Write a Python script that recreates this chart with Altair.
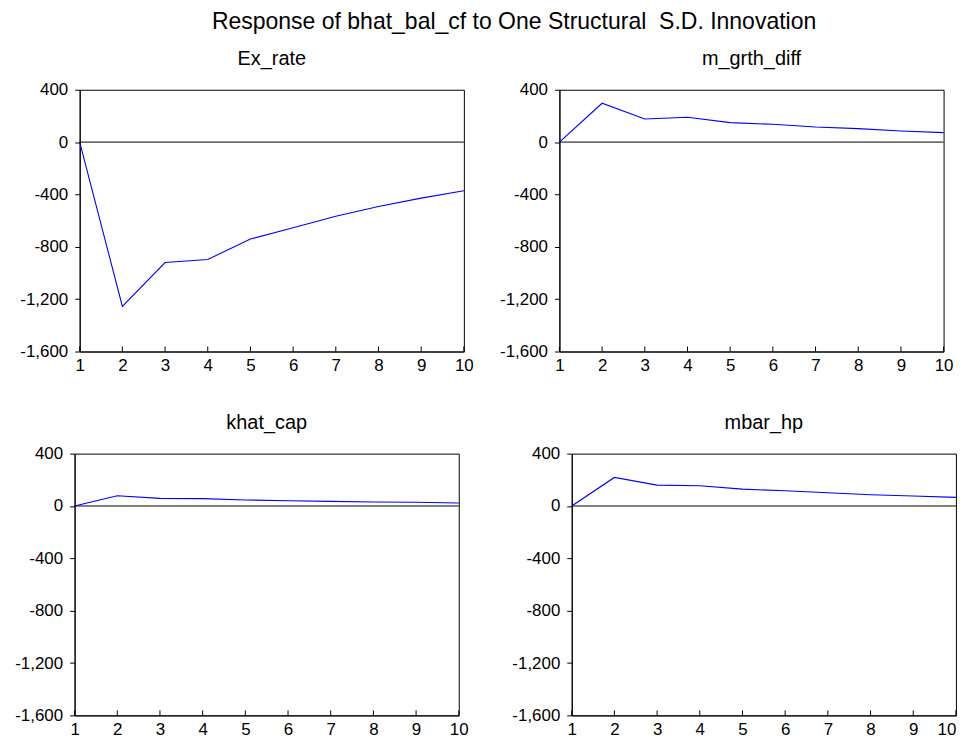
import altair as alt
import pandas as pd

steps = list(range(1, 11))
ex_rate = [0, -1255, -920, -897, -741, -655, -566, -492, -428, -372]
m_grth_diff = [0, 297, 177, 190, 149, 136, 115, 103, 85, 72]
khat_cap = [0, 78, 58, 56, 46, 40, 35, 30, 28, 23]
mbar_hp = [0, 218, 159, 154, 129, 116, 101, 86, 76, 66]
panel_titles = ["Ex_rate", "m_grth_diff", "khat_cap", "mbar_hp"]
y_ticks = [-1600, -1200, -800, -400, 0, 400]
main_title = "Response of bhat_bal_cf to One Structural\u00a0 S.D. Innovation"

FONT = "Liberation Sans"
W, H = 386, 263


def panel(name, values, left_space=0, flush_last=False):
    df = pd.DataFrame({"step": steps, "value": values})
    xkw = dict(values=steps, ticks=False, grid=False, labelPadding=6,
               labelFlush=False, labelOverlap=False, title=None,
               labelFont=FONT, labelFontSize=17, labelColor="black",
               domainColor="black")
    if flush_last:
        xkw["labelAlign"] = {"condition": {"test": "datum.value == 10", "value": "right"},
                             "value": "center"}
    x_enc = alt.X("step:Q", scale=alt.Scale(domain=[1, 10], nice=False, zero=False),
                  axis=alt.Axis(**xkw))
    ykw = dict(
        values=y_ticks, tickSize=5, labelPadding=7, grid=False,
        labelFont=FONT, labelFontSize=17, labelColor="black",
        domainColor="black", tickColor="black",
        labelExpr="replace(format(datum.value, ','), '\u2212', '-')",
    )
    if left_space:
        ykw.update(title="\u00a0", titleFontSize=4, titlePadding=left_space - 4,
                   titleColor="white")
    else:
        ykw.update(title=None)
    y_enc = alt.Y("value:Q", scale=alt.Scale(domain=[-1600, 400], nice=False),
                  axis=alt.Axis(**ykw))
    base = alt.Chart(df)
    line = base.mark_line(color="#0000ff", strokeWidth=1.1).encode(x=x_enc, y=y_enc)
    zero = alt.Chart(pd.DataFrame({"z": [0]})).mark_rule(color="black", strokeWidth=1).encode(y="z:Q")
    ticks = base.mark_rule(color="black", strokeWidth=1).encode(
        x="step:Q", y=alt.value(H), y2=alt.value(H - 5))
    return alt.layer(zero, ticks, line).properties(
        width=W, height=H,
        title=alt.TitleParams(name, fontSize=20, font=FONT, fontWeight="normal",
                              baseline="alphabetic", offset=-4, color="black"),
    )


p1 = panel(panel_titles[0], ex_rate, left_space=15.5)
p2 = panel(panel_titles[1], m_grth_diff)
p3 = panel(panel_titles[2], khat_cap)
p4 = panel(panel_titles[3], mbar_hp, flush_last=True)

row1 = alt.hconcat(p1, p2, spacing=25)
row2 = alt.hconcat(p3, p4, spacing=42.5)

chart = alt.vconcat(row1, row2, spacing=37.6, center=True).properties(
    title=alt.TitleParams(main_title, fontSize=23.1, font=FONT, fontWeight="normal",
                          anchor="middle", dx=33, dy=-9, offset=5, color="black"),
    padding={"left": -4.5, "top": 1.4, "right": 0, "bottom": 0},
    background="white",
).configure_view(stroke="black", strokeWidth=1)

chart.save("out.html", embed_options={"renderer": "svg", "actions": False})
